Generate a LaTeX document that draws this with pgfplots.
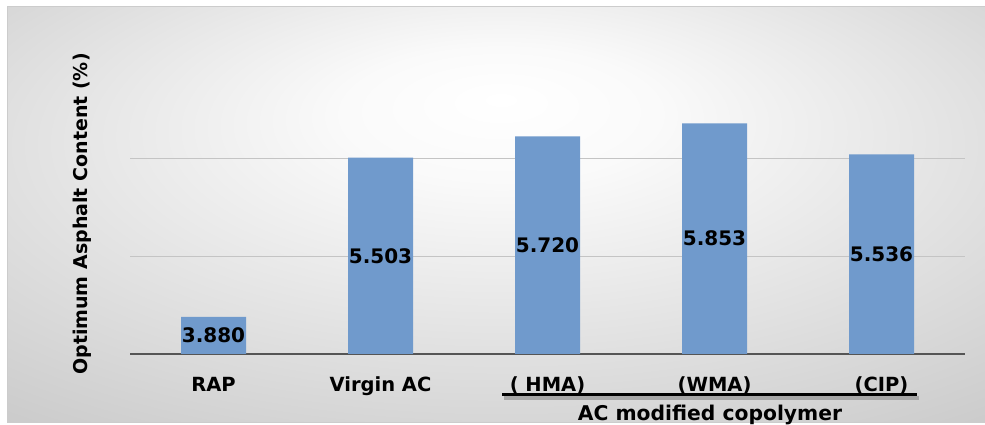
\documentclass[border=0pt]{standalone}
\usepackage{pgfplots}
\pgfplotsset{compat=1.18}
\usepackage{fontspec}
\setmainfont{DejaVu Sans}
\definecolor{barblue}{RGB}{112,154,204}
\definecolor{gridgray}{RGB}{196,196,196}
\definecolor{axisgray}{RGB}{85,85,85}
\pgfdeclareradialshading{chartbg}{\pgfpoint{0bp}{14bp}}{color(0bp)=(white); color(8bp)=(white!98!black); color(40bp)=(black!21); color(60bp)=(black!23)}
\begin{document}
\begin{tikzpicture}[x=1pt,y=1pt]
\useasboundingbox (0,0) rectangle (985,425);
\fill[white] (0,0) rectangle (985,425);
\shadedraw[shading=chartbg, draw=black!20, line width=1pt] (7,2) rectangle (995,418);
\begin{axis}[
  at={(130pt,71pt)}, anchor=south west,
  scale only axis, width=835pt, height=294pt,
  ymin=3.5, ymax=6.5, xmin=-0.5, xmax=4.5,
  ybar, bar width=65pt,
  xtick=data,
  xticklabels={RAP, Virgin AC, ( HMA), (WMA), (CIP)},
  ytick={4.5,5.5}, yticklabels={},
  ymajorgrids, grid style={gridgray, line width=0.9pt},
  separate axis lines,
  axis x line*=bottom, axis y line*=left,
  axis line style={-},
  x axis line style={axisgray, line width=2.6pt},
  y axis line style={draw=none},
  xtick style={draw=none}, ytick style={draw=none},
  xticklabel style={font=\fontsize{19.5}{22}\selectfont\bfseries, anchor=base, yshift=-33pt},
  /pgf/number format/assume math mode=true,
  visualization depends on={rawy \as \ry},
  nodes near coords={\pgfmathprintnumber[fixed,fixed zerofill,precision=3]{\pgfplotspointmeta}},
  every node near coord/.append style={anchor=center, black, font=\fontsize{20}{24}\selectfont\bfseries, yshift={-(\ry-3.5)*49pt}},
]
\addplot[fill=barblue, draw=none] coordinates {(0,3.880) (1,5.503) (2,5.720) (3,5.853) (4,5.536)};
\end{axis}
\draw[black!35, line width=3.2pt] (504,27) -- (919,27);
\draw[black, line width=3pt] (502,30) -- (917,30);
\node[anchor=base, inner sep=0pt, font=\fontsize{20.3}{24}\selectfont\bfseries] at (710,4) {AC modified copolymer};
\node[rotate=90, inner sep=0pt, font=\fontsize{19}{23}\selectfont\bfseries] at (82,211) {Optimum Asphalt Content (\%)};
\end{tikzpicture}
\end{document}
